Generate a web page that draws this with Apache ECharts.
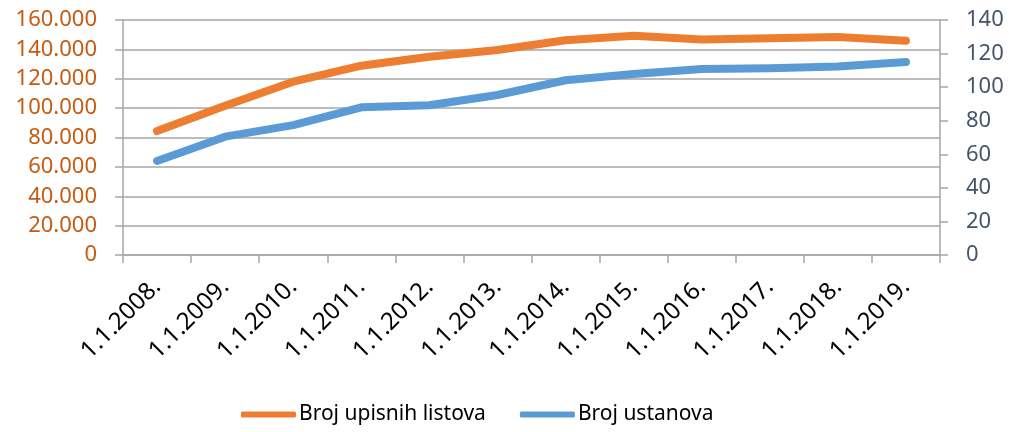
<!DOCTYPE html>
<html>
<head>
<meta charset="utf-8">
<script src="https://cdn.jsdelivr.net/npm/echarts@6/dist/echarts.min.js"></script>
<style>
html, body { margin: 0; padding: 0; background: #fff; }
#chart { width: 1009px; height: 432px; }
</style>
</head>
<body>
<div id="chart"></div>
<script>
var categories = ['1.1.2008.', '1.1.2009.', '1.1.2010.', '1.1.2011.', '1.1.2012.', '1.1.2013.',
                  '1.1.2014.', '1.1.2015.', '1.1.2016.', '1.1.2017.', '1.1.2018.', '1.1.2019.'];
var upisniListovi = [84400, 101600, 118000, 128900, 135000, 139600, 146200, 149300, 146800, 147500, 148400, 145900];
var ustanove = [56.0, 70.5, 77.4, 88.0, 89.2, 95.3, 104.1, 107.8, 110.8, 111.2, 112.3, 115.0];
var seriesNames = ['Broj upisnih listova', 'Broj ustanova'];

var FONT = 'Noto Sans';
var GRID = '#A6A6A6';

var myChart = echarts.init(document.getElementById('chart'));
var option = {
    animation: false,
    textStyle: { fontFamily: FONT },
    grid: { left: 123, right: 69, top: 20, bottom: 177, containLabel: false },
    legend: {
        bottom: 2,
        left: 236,
        data: seriesNames,
        icon: 'roundRect',
        itemWidth: 55,
        itemHeight: 6,
        itemGap: 34,
        textStyle: { fontFamily: FONT, fontSize: 21, color: '#000', padding: [0, 0, 0, -2] }
    },
    xAxis: {
        type: 'category',
        data: categories,
        boundaryGap: true,
        axisLine: { lineStyle: { color: GRID, width: 1.5 } },
        axisTick: { show: true, length: 8, lineStyle: { color: GRID, width: 1.5 } },
        axisLabel: { rotate: 45, margin: 28, fontSize: 24, color: '#000', fontFamily: FONT }
    },
    yAxis: [{
        type: 'value',
        min: 0, max: 160000, interval: 20000,
        axisLine: { show: true, lineStyle: { color: GRID, width: 1.5 } },
        axisTick: { show: true, length: 8, lineStyle: { color: GRID, width: 1.5 } },
        splitLine: { lineStyle: { color: GRID, width: 1.5 } },
        axisLabel: {
            margin: 26, fontSize: 22, color: '#C55A11', fontFamily: FONT,
            formatter: function (v) { return v === 0 ? '0' : (v / 1000) + '.000'; }
        }
    }, {
        type: 'value',
        min: 0, max: 140, interval: 20,
        axisLine: { show: true, lineStyle: { color: GRID, width: 1.5 } },
        axisTick: { show: true, length: 8, lineStyle: { color: GRID, width: 1.5 } },
        splitLine: { show: false },
        axisLabel: { margin: 26, fontSize: 22, color: '#44546A', fontFamily: FONT }
    }],
    series: [{
        name: seriesNames[0],
        type: 'line',
        yAxisIndex: 0,
        data: upisniListovi,
        showSymbol: false,
        symbol: 'none',
        itemStyle: { color: '#ED7D31' },
        lineStyle: { color: '#ED7D31', width: 8, cap: 'round', join: 'round' }
    }, {
        name: seriesNames[1],
        type: 'line',
        yAxisIndex: 1,
        data: ustanove,
        showSymbol: false,
        symbol: 'none',
        itemStyle: { color: '#5B9BD5' },
        lineStyle: { color: '#5B9BD5', width: 8, cap: 'round', join: 'round' }
    }]
};
myChart.setOption(option);
</script>
</body>
</html>
